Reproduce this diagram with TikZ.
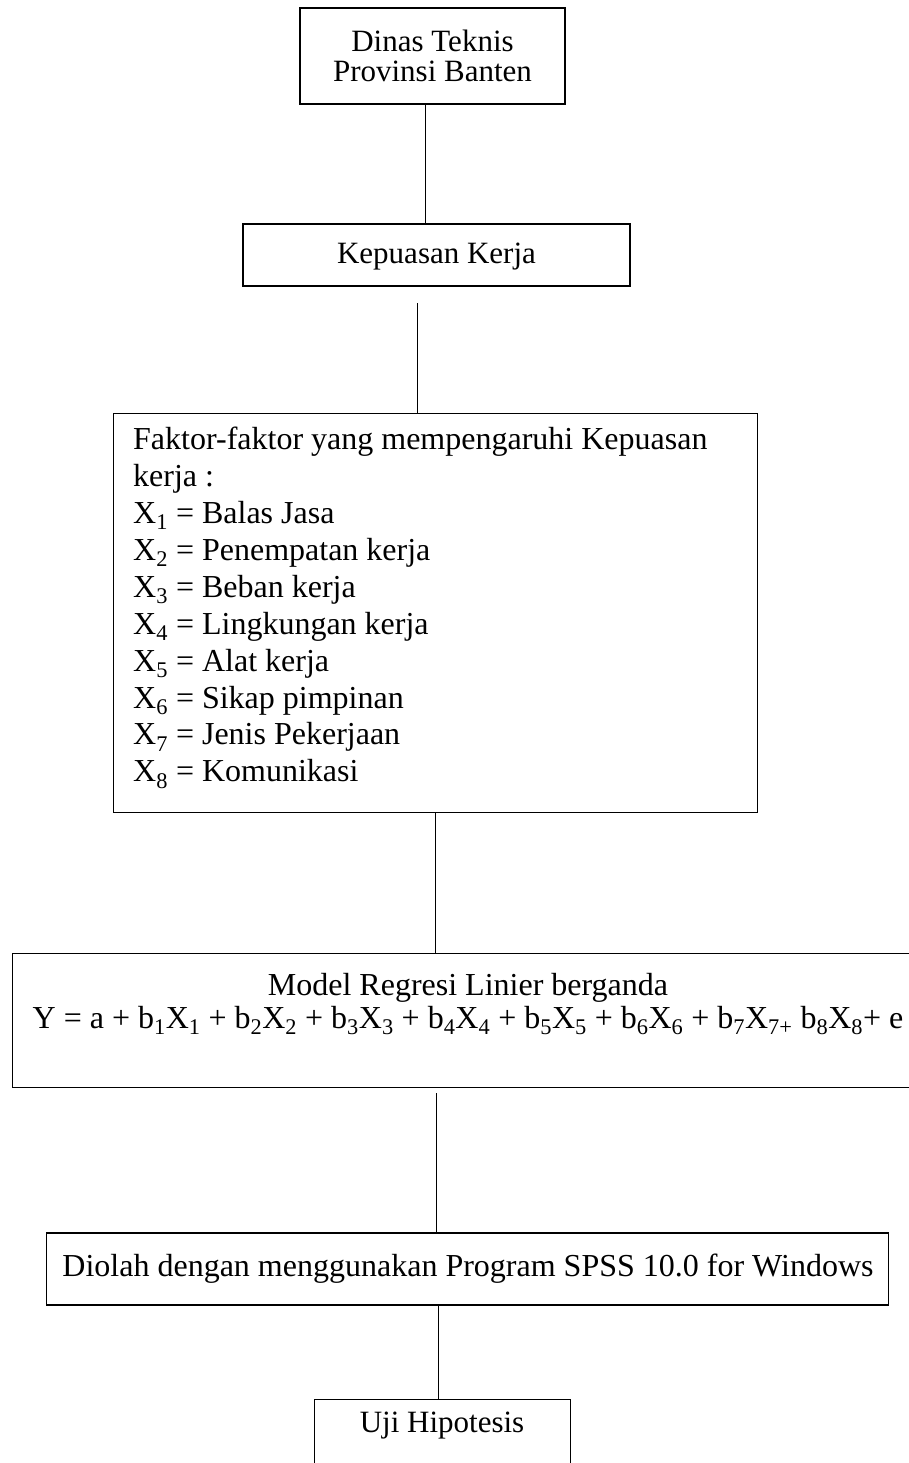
\documentclass[tikz,border=0pt]{standalone}
\usepackage{fontspec}
\setmainfont{Liberation Serif}
\newcommand{\sbs}[1]{\textsubscript{#1}}
\begin{document}
\begin{tikzpicture}[x=1pt,y=-1pt,
  box/.style={draw, line width=1.2pt, inner sep=0pt},
  conn/.style={line width=1pt},
  txt/.style={inner sep=0pt, font=\fontsize{31}{36.9}\selectfont},
  bigtxt/.style={inner sep=0pt, font=\fontsize{32}{36.9}\selectfont}]
\useasboundingbox (0,0) rectangle (909,1463);
\clip (0,0) rectangle (909,1463);
% boxes
\node[box, minimum width=265pt, minimum height=96pt] (dinas) at (432.5,56) {};
\node[txt, align=center, font=\fontsize{31}{30}\selectfont] (dinastxt) at (432.5,56) {Dinas Teknis\\Provinsi Banten};
\node[box, minimum width=387pt, minimum height=62pt] (kep) at (436.5,255) {};
\node[txt] (keptxt) at (436.5,257) {Kepuasan Kerja};
\node[box, anchor=north west, minimum width=644pt, minimum height=399pt] (faktor) at (113,413) {};
\node[bigtxt, anchor=north west, align=left] (faktortxt) at (133,427) {Faktor-faktor yang mempengaruhi Kepuasan\\
kerja :\\
X\sbs{1} = Balas Jasa\\
X\sbs{2} = Penempatan kerja\\
X\sbs{3} = Beban kerja\\
X\sbs{4} = Lingkungan kerja\\
X\sbs{5} = Alat kerja\\
X\sbs{6} = Sikap pimpinan\\
X\sbs{7} = Jenis Pekerjaan\\
X\sbs{8} = Komunikasi};
\node[box, anchor=north west, minimum width=960pt, minimum height=134pt] (model) at (12,953) {};
\node[bigtxt, align=center, font=\fontsize{32}{33}\selectfont] (modeltxt) at (468,1004) {Model Regresi Linier berganda\\
Y = a + b\sbs{1}X\sbs{1} + b\sbs{2}X\sbs{2} + b\sbs{3}X\sbs{3} + b\sbs{4}X\sbs{4} + b\sbs{5}X\sbs{5} + b\sbs{6}X\sbs{6} + b\sbs{7}X\sbs{7+} b\sbs{8}X\sbs{8}+ e};
\node[box, minimum width=842pt, minimum height=72pt] (spss) at (467.5,1269) {};
\node[bigtxt] (spsstxt) at (468,1269) {Diolah dengan menggunakan Program SPSS 10.0 for Windows};
\node[box, anchor=north west, minimum width=256pt, minimum height=120pt] (uji) at (314,1399) {};
\node[txt] (ujitxt) at (442,1426) {Uji Hipotesis};
% connectors
\coordinate (k1) at (417,303);
\coordinate (m1) at (436,1093);
\draw[conn] (dinas.south -| 425,0) -- (kep.north -| 425,0);
\draw[conn] (k1) -- (faktor.north -| k1);
\draw[conn] (faktor.south -| 435,0) -- (model.north -| 435,0);
\draw[conn] (m1) -- (spss.north -| m1);
\draw[conn] (spss.south -| 438,0) -- (uji.north -| 438,0);
\end{tikzpicture}
\end{document}
